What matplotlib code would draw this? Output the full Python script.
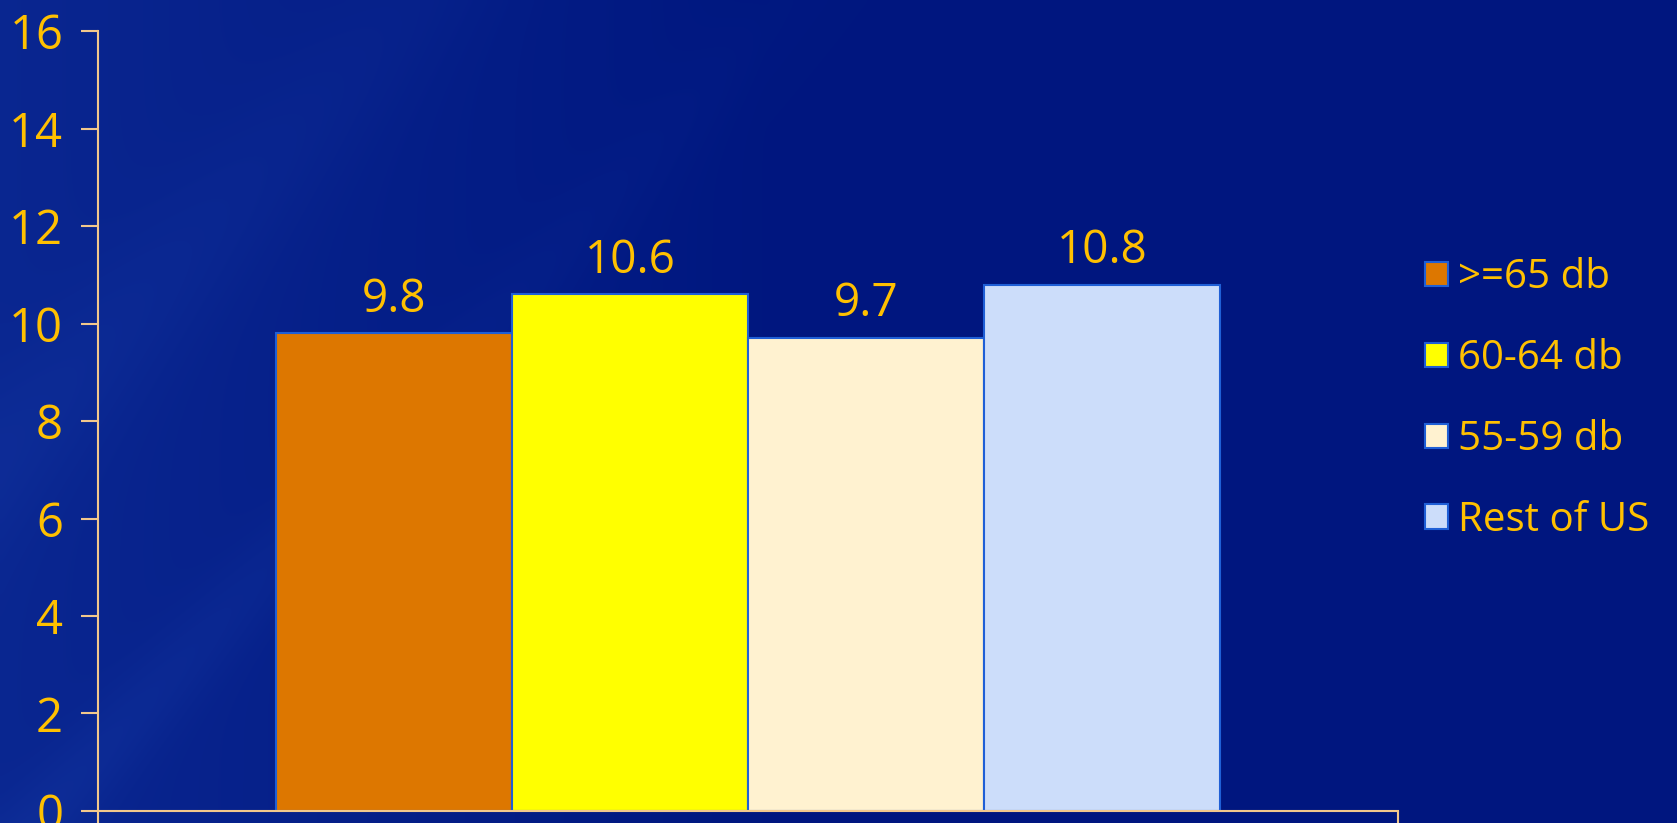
import numpy as np
import matplotlib
matplotlib.use("Agg")
import matplotlib.pyplot as plt
from matplotlib.patches import Patch

groups = [">=65 db", "60-64 db", "55-59 db", "Rest of US"]
values = [9.8, 10.6, 9.7, 10.8]
colors = ["#DD7700", "#FFFF00", "#FFF2D0", "#CCDDFA"]
yticks = [0, 2, 4, 6, 8, 10, 12, 14, 16]

gold = "#FFC000"
axis_col = "#F2C88C"
edge_col = "#1F5FD6"

plt.rcParams["font.family"] = ["Open Sans", "DejaVu Sans"]

fig = plt.figure(figsize=(16.77, 8.23), dpi=100)

# dark blue slide background with soft diagonal streaks
bg = fig.add_axes([0, 0, 1, 1])
h, w = 200, 400
yy, xx = np.mgrid[0:h, 0:w]
xn = xx / w
yn = 1 - yy / h
base = 0.55 * np.clip(1 - xn * 2.2, 0, 1)
diag = xn - 0.45 * yn
streak = 0.25 * np.exp(-((diag - 0.02) / 0.03) ** 2) + 0.2 * np.exp(-((diag + 0.2) / 0.05) ** 2)
t = np.clip(base + streak * np.clip(1 - xn * 1.8, 0, 1), 0, 1)
dark = np.array([0.0, 0.09, 0.50])
light = np.array([0.07, 0.20, 0.62])
img = dark + t[..., None] * (light - dark)
bg.imshow(img, aspect="auto", extent=[0, 1, 0, 1], interpolation="bicubic")
bg.set_axis_off()

ax = fig.add_axes([0.0584, 0.0146, 0.7752, 0.9477])
ax.patch.set_alpha(0)

width = 0.1815
for i, (g, v, c) in enumerate(zip(groups, values, colors)):
    x = (i - 1.5) * width
    ax.bar(x, v, width, color=c, edgecolor=edge_col, linewidth=1.5, label=g)
    ax.text(x, v + 0.22, f"{v}", ha="center", va="bottom", color=gold, fontsize=33)

ax.set_xlim(-0.5, 0.5)
ax.set_ylim(0, 16)
ax.set_yticks(yticks)
ax.set_xticks([-0.5, 0.5])
ax.set_xticklabels([])
ax.tick_params(axis="y", colors=axis_col, labelcolor=gold, labelsize=34,
               length=12, width=1.5, pad=13)
ax.tick_params(axis="x", colors=axis_col, length=12, width=1.5)
for s in ["top", "right"]:
    ax.spines[s].set_visible(False)
for s in ["left", "bottom"]:
    ax.spines[s].set_color(axis_col)
    ax.spines[s].set_linewidth(1.5)

handles = [Patch(facecolor=c, edgecolor=edge_col, linewidth=1.5) for c in colors]
leg = fig.legend(handles, groups, loc="upper left", bbox_to_anchor=(0.838, 0.711),
                 frameon=False, fontsize=29, handlelength=0.55, handleheight=0.55,
                 handletextpad=0.25, labelspacing=1.0, borderpad=0)
for txt in leg.get_texts():
    txt.set_color(gold)

fig.savefig("out.png", dpi=100)
